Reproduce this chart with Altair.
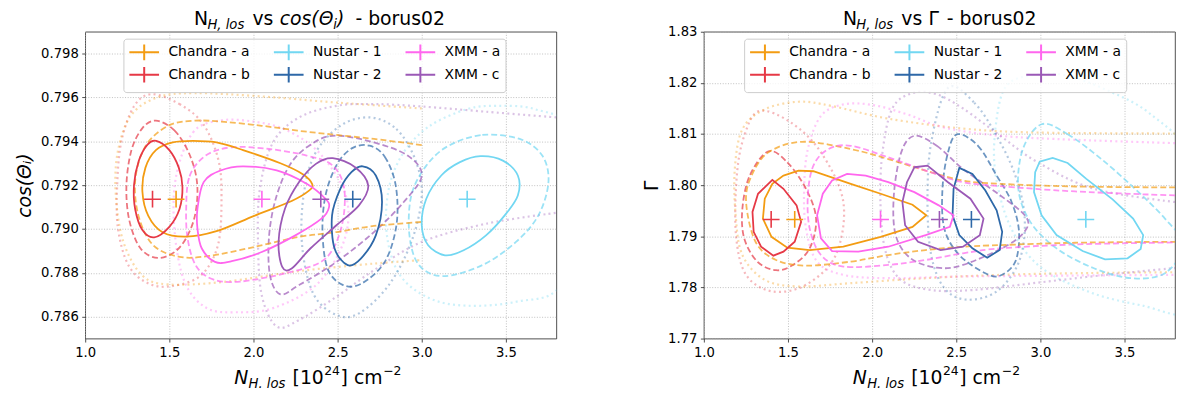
import altair as alt
import pandas as pd

FONT = "DejaVu Sans"

# ---------------- series, colours, best-fit values ----------------
SERIES = ["Chandra - a", "Chandra - b", "Nustar - 1", "Nustar - 2", "XMM - a", "XMM - c"]
COLORS = ["#f39c12", "#e63946", "#72d7f2", "#2e68a8", "#ff66ee", "#9b59b6"]
BEST_NH = [1.54, 1.40, 3.27, 2.59, 2.05, 2.40]
BEST_COS = 0.79136
BEST_GAMMA = 1.7933

X_DOMAIN = [1.0, 3.8]
X_TICKS = [1.0, 1.5, 2.0, 2.5, 3.0, 3.5]
COS_DOMAIN = [0.785, 0.799]
COS_TICKS = [0.786, 0.788, 0.790, 0.792, 0.794, 0.796, 0.798]
GAM_DOMAIN = [1.77, 1.83]
GAM_TICKS = [1.77, 1.78, 1.79, 1.80, 1.81, 1.82, 1.83]

# ---------------- contours: N_H vs cos(theta_i) ----------------
CA_COS_S = [(1.340, 0.79170), (1.358, 0.79280), (1.420, 0.79360), (1.520, 0.79395), (1.640, 0.79402), (1.780, 0.79395), (1.938, 0.79360), (2.160, 0.79300), (2.293, 0.79250), (2.349, 0.79205), (2.330, 0.79175), (2.227, 0.79128), (2.004, 0.79060), (1.780, 0.78990), (1.600, 0.78965), (1.460, 0.78985), (1.375, 0.79060)]
CA_COS_D = [(3.000, 0.79383), (2.716, 0.79411), (2.493, 0.79429), (2.271, 0.79448), (2.049, 0.79471), (1.827, 0.79489), (1.649, 0.79494), (1.493, 0.79471), (1.360, 0.79380), (1.298, 0.79229), (1.316, 0.79062), (1.404, 0.78926), (1.560, 0.78873), (1.738, 0.78877), (2.004, 0.78918), (2.271, 0.78964), (2.493, 0.78986), (2.716, 0.79014), (3.000, 0.79032)]
CA_COS_T = [(3.000, 0.79550), (2.493, 0.79577), (2.049, 0.79605), (1.649, 0.79620), (1.427, 0.79600), (1.271, 0.79517), (1.193, 0.79350), (1.182, 0.79153), (1.227, 0.78941), (1.338, 0.78789), (1.493, 0.78747), (1.827, 0.78759), (2.271, 0.78808), (2.716, 0.78842), (3.000, 0.78858)]
CB_COS_S = [(1.422, 0.79402), (1.500, 0.79360), (1.556, 0.79280), (1.578, 0.79190), (1.560, 0.79090), (1.500, 0.79010), (1.410, 0.78962), (1.340, 0.78995), (1.297, 0.79090), (1.290, 0.79200), (1.318, 0.79310), (1.370, 0.79385)]
CB_COS_D = [(1.420, 0.79494), (1.530, 0.79450), (1.620, 0.79340), (1.666, 0.79200), (1.645, 0.79040), (1.560, 0.78915), (1.440, 0.78868), (1.330, 0.78910), (1.262, 0.79040), (1.245, 0.79200), (1.275, 0.79360), (1.340, 0.79460)]
CB_COS_T = [(1.394, 0.79615), (1.560, 0.79570), (1.700, 0.79480), (1.790, 0.79320), (1.810, 0.79150), (1.790, 0.78930), (1.690, 0.78790), (1.520, 0.78740), (1.380, 0.78750), (1.260, 0.78830), (1.195, 0.79000), (1.190, 0.79200), (1.215, 0.79400), (1.290, 0.79560)]
XA_COS_S = [(1.667, 0.79092), (1.704, 0.79214), (1.804, 0.79267), (1.938, 0.79286), (2.138, 0.79267), (2.316, 0.79206), (2.427, 0.79138), (2.449, 0.79100), (2.404, 0.79047), (2.249, 0.78971), (2.049, 0.78895), (1.871, 0.78853), (1.771, 0.78850), (1.693, 0.78911), (1.667, 0.79002)]
XA_COS_D = [(1.600, 0.79090), (1.620, 0.79240), (1.716, 0.79335), (1.871, 0.79373), (2.093, 0.79365), (2.316, 0.79335), (2.470, 0.79290), (2.540, 0.79180), (2.520, 0.79000), (2.420, 0.78860), (2.200, 0.78800), (1.920, 0.78760), (1.760, 0.78770), (1.660, 0.78830), (1.610, 0.78950)]
XA_COS_T = [(1.540, 0.79240), (1.640, 0.79440), (1.800, 0.79495), (2.000, 0.79490), (2.200, 0.79450), (2.400, 0.79340), (2.550, 0.79150), (2.540, 0.78950), (2.380, 0.78750), (2.120, 0.78640), (1.900, 0.78620), (1.720, 0.78640), (1.590, 0.78760), (1.530, 0.79000)]
XC_COS_S = [(2.471, 0.79323), (2.604, 0.79282), (2.682, 0.79198), (2.627, 0.79108), (2.493, 0.79017), (2.338, 0.78911), (2.227, 0.78820), (2.171, 0.78827), (2.149, 0.78941), (2.187, 0.79092), (2.271, 0.79214), (2.371, 0.79297)]
XC_COS_D = [(2.493, 0.79426), (2.716, 0.79395), (2.916, 0.79335), (3.000, 0.79244), (2.893, 0.79123), (2.716, 0.78986), (2.493, 0.78850), (2.271, 0.78744), (2.160, 0.78702), (2.098, 0.78789), (2.093, 0.78971), (2.138, 0.79153), (2.227, 0.79305), (2.360, 0.79395)]
XC_COS_T = [(3.800, 0.79509), (3.382, 0.79535), (3.000, 0.79559), (2.716, 0.79570), (2.493, 0.79562), (2.271, 0.79509), (2.116, 0.79395), (2.038, 0.79183), (2.027, 0.78941), (2.049, 0.78698), (2.138, 0.78555), (2.271, 0.78585), (2.493, 0.78691), (2.716, 0.78812), (3.000, 0.78941), (3.382, 0.79024), (3.800, 0.79074)]
NB_COS_S = [(2.649, 0.79286), (2.727, 0.79244), (2.764, 0.79123), (2.727, 0.78971), (2.638, 0.78865), (2.560, 0.78835), (2.482, 0.78911), (2.467, 0.79062), (2.516, 0.79183), (2.582, 0.79259)]
NB_COS_D = [(2.690, 0.79380), (2.780, 0.79330), (2.845, 0.79200), (2.850, 0.79020), (2.780, 0.78850), (2.640, 0.78750), (2.530, 0.78745), (2.440, 0.78820), (2.410, 0.78990), (2.430, 0.79160), (2.500, 0.79300), (2.590, 0.79370)]
NB_COS_T = [(2.693, 0.79509), (2.849, 0.79456), (2.960, 0.79320), (3.000, 0.79153), (2.938, 0.78941), (2.804, 0.78744), (2.627, 0.78615), (2.493, 0.78608), (2.360, 0.78698), (2.293, 0.78895), (2.293, 0.79123), (2.360, 0.79335), (2.516, 0.79471)]
NA_COS_S = [(3.227, 0.79305), (3.349, 0.79332), (3.482, 0.79312), (3.571, 0.79244), (3.571, 0.79153), (3.493, 0.79062), (3.382, 0.78971), (3.249, 0.78903), (3.138, 0.78880), (3.038, 0.78926), (3.000, 0.79017), (3.027, 0.79138), (3.116, 0.79244)]
NA_COS_D = [(3.160, 0.79380), (3.360, 0.79429), (3.582, 0.79411), (3.716, 0.79335), (3.753, 0.79214), (3.693, 0.79062), (3.560, 0.78941), (3.360, 0.78835), (3.127, 0.78785), (2.984, 0.78835), (2.927, 0.78971), (2.938, 0.79153), (3.027, 0.79289)]
NA_COS_T = [(2.893, 0.79350), (3.049, 0.79471), (3.271, 0.79547), (3.449, 0.79562), (3.671, 0.79547), (3.893, 0.79456), (3.960, 0.79123), (3.827, 0.78744), (3.560, 0.78668), (3.271, 0.78650), (3.049, 0.78683), (2.871, 0.78789), (2.793, 0.78971), (2.804, 0.79183)]

# ---------------- contours: N_H vs Gamma ----------------
CA_GAM_S = [(1.473, 1.80188), (1.562, 1.80285), (1.651, 1.80272), (1.873, 1.80026), (2.051, 1.79832), (2.240, 1.79618), (2.322, 1.79411), (2.240, 1.79184), (2.051, 1.78990), (1.829, 1.78796), (1.629, 1.78731), (1.496, 1.78777), (1.402, 1.78990), (1.351, 1.79346), (1.362, 1.79735), (1.407, 1.80026)]
CA_GAM_D = [(3.800, 1.79955), (3.207, 1.79974), (2.762, 1.80026), (2.540, 1.80091), (2.318, 1.80285), (2.096, 1.80511), (1.873, 1.80706), (1.584, 1.80848), (1.384, 1.80641), (1.284, 1.80188), (1.251, 1.79670), (1.307, 1.78893), (1.429, 1.78537), (1.607, 1.78427), (1.873, 1.78505), (2.096, 1.78634), (2.318, 1.78731), (2.540, 1.78796), (2.762, 1.78828), (3.207, 1.78874), (3.800, 1.78893)]
CA_GAM_T = [(3.800, 1.81010), (2.984, 1.81029), (2.540, 1.81107), (2.096, 1.81301), (1.762, 1.81547), (1.562, 1.81631), (1.362, 1.81482), (1.229, 1.81094), (1.184, 1.80317), (1.189, 1.79411), (1.229, 1.78634), (1.362, 1.78149), (1.562, 1.78019), (1.873, 1.78084), (2.318, 1.78181), (2.762, 1.78246), (3.207, 1.78278), (3.800, 1.78298)]
CB_GAM_S = [(1.407, 1.80104), (1.473, 1.79929), (1.551, 1.79605), (1.578, 1.79282), (1.540, 1.78893), (1.473, 1.78699), (1.413, 1.78621), (1.340, 1.78796), (1.296, 1.79087), (1.289, 1.79476), (1.322, 1.79832)]
CB_GAM_D = [(1.384, 1.80660), (1.496, 1.80447), (1.607, 1.79929), (1.667, 1.79346), (1.629, 1.78764), (1.529, 1.78440), (1.429, 1.78337), (1.318, 1.78505), (1.240, 1.78958), (1.229, 1.79540), (1.273, 1.80188)]
CB_GAM_T = [(1.329, 1.81450), (1.518, 1.81223), (1.696, 1.80641), (1.829, 1.79670), (1.784, 1.78634), (1.607, 1.78052), (1.407, 1.77922), (1.251, 1.78246), (1.191, 1.79023), (1.196, 1.80188), (1.240, 1.80964)]
XA_GAM_S = [(1.851, 1.80220), (1.962, 1.80188), (2.096, 1.80058), (2.251, 1.79864), (2.396, 1.79605), (2.484, 1.79411), (2.462, 1.79184), (2.318, 1.79023), (2.096, 1.78796), (1.918, 1.78699), (1.762, 1.78712), (1.696, 1.78958), (1.673, 1.79411), (1.707, 1.79832), (1.762, 1.80091)]
XA_GAM_D = [(3.800, 1.79799), (3.207, 1.79877), (2.762, 1.79981), (2.540, 1.80058), (2.318, 1.80285), (2.096, 1.80544), (1.873, 1.80770), (1.740, 1.80706), (1.651, 1.80382), (1.618, 1.79799), (1.629, 1.79152), (1.696, 1.78634), (1.829, 1.78408), (2.096, 1.78440), (2.318, 1.78537), (2.540, 1.78667), (2.762, 1.78764), (3.207, 1.78841), (3.800, 1.78880)]
XA_GAM_T = [(3.800, 1.80822), (3.207, 1.80887), (2.762, 1.80964), (2.429, 1.81126), (2.207, 1.81385), (2.007, 1.81566), (1.829, 1.81579), (1.696, 1.81353), (1.618, 1.80706), (1.596, 1.79929), (1.607, 1.79152), (1.673, 1.78505), (1.829, 1.78246), (2.096, 1.78181), (2.540, 1.78214), (3.207, 1.78233), (3.800, 1.78246)]
XC_GAM_S = [(2.251, 1.80350), (2.329, 1.80382), (2.451, 1.80058), (2.584, 1.79735), (2.662, 1.79346), (2.640, 1.79023), (2.540, 1.78796), (2.407, 1.78731), (2.273, 1.78893), (2.196, 1.79217), (2.180, 1.79670), (2.207, 1.80058)]
XC_GAM_D = [(2.251, 1.80964), (2.384, 1.80770), (2.540, 1.80317), (2.762, 1.79799), (2.907, 1.79411), (2.918, 1.79152), (2.807, 1.78828), (2.540, 1.78440), (2.384, 1.78388), (2.229, 1.78570), (2.140, 1.79023), (2.129, 1.79799), (2.173, 1.80641)]
XC_GAM_T = [(3.800, 1.79670), (3.318, 1.79929), (2.984, 1.80447), (2.762, 1.80964), (2.540, 1.81500), (2.380, 1.81780), (2.240, 1.81800), (2.120, 1.81500), (2.060, 1.80600), (2.050, 1.79600), (2.080, 1.78700), (2.170, 1.78150), (2.350, 1.77950), (2.600, 1.77950), (3.000, 1.78100), (3.400, 1.78250), (3.800, 1.78380)]
NB_GAM_S = [(2.518, 1.80337), (2.596, 1.80220), (2.673, 1.79896), (2.740, 1.79508), (2.773, 1.79087), (2.758, 1.78731), (2.684, 1.78582), (2.596, 1.78764), (2.518, 1.79023), (2.478, 1.79411), (2.484, 1.79929)]
NB_GAM_D = [(2.507, 1.80997), (2.629, 1.80770), (2.740, 1.80188), (2.829, 1.79670), (2.873, 1.79087), (2.851, 1.78505), (2.762, 1.78233), (2.673, 1.78278), (2.518, 1.78634), (2.429, 1.79152), (2.418, 1.79929), (2.451, 1.80641)]
NB_GAM_T = [(2.451, 1.81903), (2.607, 1.81612), (2.740, 1.80964), (2.851, 1.80188), (2.907, 1.79346), (2.873, 1.78505), (2.740, 1.77922), (2.562, 1.77761), (2.429, 1.77987), (2.351, 1.78634), (2.329, 1.79670), (2.351, 1.80835)]
NA_GAM_S = [(2.996, 1.80460), (3.073, 1.80531), (3.162, 1.80434), (3.273, 1.80123), (3.429, 1.79722), (3.551, 1.79346), (3.611, 1.79023), (3.596, 1.78751), (3.518, 1.78570), (3.384, 1.78550), (3.251, 1.78712), (3.096, 1.79023), (3.007, 1.79411), (2.962, 1.79864), (2.969, 1.80252)]
NA_GAM_D = [(3.007, 1.81191), (3.162, 1.80997), (3.362, 1.80511), (3.562, 1.79929), (3.740, 1.79346), (3.851, 1.78828), (3.740, 1.78278), (3.540, 1.78181), (3.318, 1.78375), (3.096, 1.78764), (2.940, 1.79282), (2.869, 1.79929), (2.896, 1.80706)]
NA_GAM_T = [(2.800, 1.81950), (2.950, 1.82150), (3.150, 1.82150), (3.400, 1.81850), (3.650, 1.81400), (3.900, 1.80500), (4.000, 1.78500), (3.900, 1.77500), (3.600, 1.77650), (3.300, 1.77900), (3.000, 1.78400), (2.820, 1.79200), (2.730, 1.80300), (2.740, 1.81300)]

# (series, level, closed curve?, points)
COS_CONTOURS = [
    ("Chandra - a", "dotted", False, CA_COS_T), ("Chandra - a", "dashed", False, CA_COS_D), ("Chandra - a", "solid", True, CA_COS_S),
    ("Chandra - b", "dotted", True, CB_COS_T), ("Chandra - b", "dashed", True, CB_COS_D), ("Chandra - b", "solid", True, CB_COS_S),
    ("Nustar - 1", "dotted", True, NA_COS_T), ("Nustar - 1", "dashed", True, NA_COS_D), ("Nustar - 1", "solid", True, NA_COS_S),
    ("Nustar - 2", "dotted", True, NB_COS_T), ("Nustar - 2", "dashed", True, NB_COS_D), ("Nustar - 2", "solid", True, NB_COS_S),
    ("XMM - a", "dotted", True, XA_COS_T), ("XMM - a", "dashed", True, XA_COS_D), ("XMM - a", "solid", True, XA_COS_S),
    ("XMM - c", "dotted", False, XC_COS_T), ("XMM - c", "dashed", True, XC_COS_D), ("XMM - c", "solid", True, XC_COS_S),
]
GAM_CONTOURS = [
    ("Chandra - a", "dotted", False, CA_GAM_T), ("Chandra - a", "dashed", False, CA_GAM_D), ("Chandra - a", "solid", True, CA_GAM_S),
    ("Chandra - b", "dotted", True, CB_GAM_T), ("Chandra - b", "dashed", True, CB_GAM_D), ("Chandra - b", "solid", True, CB_GAM_S),
    ("Nustar - 1", "dotted", True, NA_GAM_T), ("Nustar - 1", "dashed", True, NA_GAM_D), ("Nustar - 1", "solid", True, NA_GAM_S),
    ("Nustar - 2", "dotted", True, NB_GAM_T), ("Nustar - 2", "dashed", True, NB_GAM_D), ("Nustar - 2", "solid", True, NB_GAM_S),
    ("XMM - a", "dotted", False, XA_GAM_T), ("XMM - a", "dashed", False, XA_GAM_D), ("XMM - a", "solid", True, XA_GAM_S),
    ("XMM - c", "dotted", False, XC_GAM_T), ("XMM - c", "dashed", True, XC_GAM_D), ("XMM - c", "solid", True, XC_GAM_S),
]

# line colours keyed in reverse order so the line scale stays separate from the legend scale
LINE_SERIES = SERIES[::-1]
LINE_COLORS = COLORS[::-1]

LEVEL_STYLE = {
    "solid": {"strokeWidth": 1.8, "opacity": 1.0},
    "dashed": {"strokeWidth": 1.8, "opacity": 0.7, "strokeDash": [6, 3]},
    "dotted": {"strokeWidth": 2.2, "opacity": 0.36, "strokeDash": [2, 3.3]},
}

CROSS = "M-1,0L1,0M0,-1L0,1"
LEG_SYM = "M-2,0L2,0M0,-1.05L0,1.05"

W, H = 476, 310

# text pieces (mathtext-like titles): (text, x, y, size, italic)
TY, SY = -6.5, -2.5
TITLE_COS = [("N", 110, TY, 19, False), ("H, los", 123.5, SY, 13.3, True), ("vs", 169, TY, 19, False),
             ("cos(Θ", 196.5, TY, 19, True), ("i", 250.5, SY, 13.3, True), (")", 254.5, TY, 19, True),
             ("- borus02", 273, TY, 19, False)]
TITLE_GAM = [("N", 140.5, TY, 19, False), ("H, los", 154, SY, 13.3, True), ("vs", 199.5, TY, 19, False),
             ("Γ", 227, TY, 19, False), ("- borus02", 245.5, TY, 19, False)]
XLABEL = [("N", 150.5, 355.5, 19, True), ("H. los", 165, 359.5, 13.3, True), ("[10", 209.5, 355.5, 19, False),
          ("24", 241.5, 347, 12.5, False), ("] cm", 258, 355.5, 19, False), ("−2", 301, 347, 12.5, False)]

ONE = pd.DataFrame({"k": [0]})


def contour_frame(contours):
    rows = []
    for cid, (series, level, closed, pts) in enumerate(contours):
        for k, (x, y) in enumerate(pts):
            rows.append({"cid": f"c{cid}", "series": series, "level": level,
                         "closed": closed, "k": k, "x": x, "y": y})
    return pd.DataFrame(rows)


def text_piece(txt, px, py, size, italic):
    return alt.Chart(ONE).mark_text(
        text=txt, align="left", baseline="alphabetic", font=FONT, fontSize=size,
        fontStyle="italic" if italic else "normal", color="black"
    ).encode(x=alt.value(px), y=alt.value(py))


def make_panel(contours, ydom, yticks, yfmt, ytitle, ytitle_italic, best_y, title_parts, legend_x, angular):
    df = contour_frame(contours)
    xenc = alt.X("x:Q", scale=alt.Scale(domain=X_DOMAIN, nice=False, zero=False),
                 axis=alt.Axis(values=X_TICKS, format=".1f", title=None, labelFlush=False))
    yenc = alt.Y("y:Q", scale=alt.Scale(domain=ydom, nice=False, zero=False),
                 axis=alt.Axis(values=yticks, format=yfmt, title=ytitle,
                               titleFontStyle="italic" if ytitle_italic else "normal"))
    stroke = alt.Stroke("series:N", scale=alt.Scale(domain=LINE_SERIES, range=LINE_COLORS), legend=None)
    layers = []
    for level in ("dotted", "dashed", "solid"):
        for closed in (True, False):
            sub = df[(df["level"] == level) & (df["closed"] == closed)]
            if sub.empty:
                continue
            if closed:
                interp = "linear-closed" if (angular and level == "solid") else "cardinal-closed"
            else:
                interp = "cardinal"
            layers.append(
                alt.Chart(sub).mark_line(interpolate=interp, clip=True, **LEVEL_STYLE[level]).encode(
                    x=xenc, y=yenc, stroke=stroke, detail="cid:N", order="k:Q")
            )
    best = pd.DataFrame({"series": SERIES, "x": BEST_NH, "y": [best_y] * len(SERIES)})
    legend = alt.Legend(
        title=None, orient="none", legendX=legend_x, legendY=7, columns=3, gridAlign="each",
        symbolType=LEG_SYM, symbolSize=225, symbolStrokeWidth=2, symbolOffset=7.5,
        labelFont=FONT, labelFontSize=14, labelColor="black", labelOffset=16,
        columnPadding=20, rowPadding=-2, padding=5,
        fillColor="rgba(255,255,255,0.8)", strokeColor="#cccccc", cornerRadius=3,
    )
    layers.append(
        alt.Chart(best).mark_point(shape=CROSS, size=289, filled=False, strokeWidth=1.6, opacity=1).encode(
            x=xenc, y=yenc,
            color=alt.Color("series:N", scale=alt.Scale(domain=SERIES, range=COLORS), legend=legend))
    )
    for (txt, px, py, fs, it) in title_parts + XLABEL:
        layers.append(text_piece(txt, px, py, fs, it))
    return alt.layer(*layers).properties(width=W, height=H)


left = make_panel(COS_CONTOURS, COS_DOMAIN, COS_TICKS, ".3f", "cos(Θᵢ)", True, BEST_COS, TITLE_COS, 38.6, False)
right = make_panel(GAM_CONTOURS, GAM_DOMAIN, GAM_TICKS, ".2f", "Γ", False, BEST_GAMMA, TITLE_GAM, 40.7, True)

chart = (
    alt.hconcat(left, right, spacing=85)
    .resolve_scale(color="independent", stroke="independent", x="independent", y="independent")
    .resolve_legend(color="independent")
    .properties(padding={"left": 7, "top": 0, "right": 0, "bottom": 0})
    .configure_axis(
        labelFont=FONT, labelFontSize=13.3, labelColor="black", tickColor="#222", tickSize=3.5,
        tickWidth=0.8, labelPadding=3.5, domain=False, grid=True, gridColor="#b0b0b0",
        gridDash=[1, 1.65], gridWidth=0.8, titleFont=FONT, titleFontSize=19,
        titleFontWeight="normal", titleColor="black", titlePadding=6,
    )
    .configure_view(stroke="#222", strokeWidth=0.8)
)

chart.save("out.html", embed_options={"renderer": "svg", "actions": False})
